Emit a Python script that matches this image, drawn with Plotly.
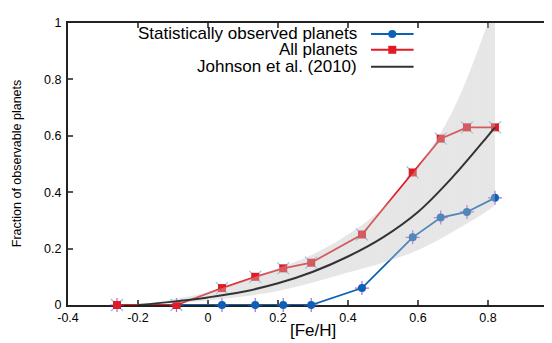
import plotly.graph_objects as go

# ---------------- data ----------------
feh_points = [-0.26, -0.09, 0.04, 0.135, 0.215, 0.295, 0.44, 0.585, 0.665, 0.74, 0.82]
frac_all = [0.0, 0.0, 0.06, 0.10, 0.13, 0.15, 0.25, 0.47, 0.59, 0.63, 0.63]
frac_observed = [0.0, 0.0, 0.0, 0.0, 0.0, 0.0, 0.06, 0.24, 0.31, 0.33, 0.38]

feh_curve = [-0.2, -0.1, 0.0, 0.1, 0.2, 0.3, 0.4, 0.5, 0.6, 0.7, 0.8, 0.82]
frac_johnson = [0.0, 0.012, 0.027, 0.047, 0.077, 0.118, 0.172, 0.24, 0.33, 0.455, 0.6, 0.63]
band_upper = [0.0, 0.02, 0.045, 0.085, 0.13, 0.18, 0.25, 0.345, 0.49, 0.69, 1.0, 1.07]
band_lower = [0.0, 0.006, 0.016, 0.03, 0.05, 0.08, 0.115, 0.15, 0.195, 0.26, 0.335, 0.355]

x_tickvals = [-0.4, -0.2, 0.0, 0.2, 0.4, 0.6, 0.8]
x_ticktext = ["-0.4", "-0.2", "0", "0.2", "0.4", "0.6", "0.8"]
y_tickvals = [0.0, 0.2, 0.4, 0.6, 0.8, 1.0]
y_ticktext = ["0", "0.2", "0.4", "0.6", "0.8", "1"]

legend_names = ["Statistically observed planets", "All planets", "Johnson et al. (2010)"]

# ---------------- style ----------------
FONT = "Liberation Sans, Arial, Helvetica, sans-serif"
BLUE = "#0b62b4"
RED = "#e01b24"
BLACK = "#333333"
AXIS = "#222222"

fig = go.Figure()

# error-cross decorations
fig.add_trace(go.Scatter(x=feh_points, y=frac_all, mode="markers",
                         marker=dict(symbol="x-thin", size=12,
                                     line=dict(color="rgba(110,190,235,0.85)", width=1.2)),
                         hoverinfo="skip", showlegend=False, cliponaxis=False))
fig.add_trace(go.Scatter(x=feh_points, y=frac_observed, mode="markers",
                         marker=dict(symbol="cross-thin", size=10,
                                     line=dict(color="rgba(170,70,220,0.85)", width=1.2)),
                         hoverinfo="skip", showlegend=False, cliponaxis=False))

fig.add_trace(go.Scatter(x=feh_points, y=frac_observed, mode="lines+markers",
                         line=dict(color=BLUE, width=1.8),
                         marker=dict(symbol="circle", size=8, color=BLUE),
                         name=legend_names[0], showlegend=False, cliponaxis=False))
fig.add_trace(go.Scatter(x=feh_points, y=frac_all, mode="lines+markers",
                         line=dict(color=RED, width=1.8),
                         marker=dict(symbol="square", size=8, color=RED),
                         name=legend_names[1], showlegend=False, cliponaxis=False))

# uncertainty band (semi-transparent, drawn over the data lines)
fig.add_trace(go.Scatter(x=feh_curve, y=band_upper, mode="lines",
                         line=dict(width=0, shape="spline", color="rgba(0,0,0,0)"),
                         hoverinfo="skip", showlegend=False))
fig.add_trace(go.Scatter(x=feh_curve, y=band_lower, mode="lines",
                         line=dict(width=0, shape="spline", color="rgba(0,0,0,0)"),
                         fill="tonexty", fillcolor="rgba(190,190,190,0.38)",
                         fillpattern=dict(shape="|", size=3, solidity=0.2,
                                          bgcolor="rgba(192,192,192,0.38)",
                                          fgcolor="rgba(180,180,180,0.15)"),
                         hoverinfo="skip", showlegend=False))

fig.add_trace(go.Scatter(x=feh_curve, y=frac_johnson, mode="lines",
                         line=dict(color=BLACK, width=2, shape="spline"),
                         name=legend_names[2], showlegend=False))

# ---------------- manual legend (text left of sample) ----------------
leg_y = [0.961, 0.905, 0.845]
leg_text_x = 0.601
leg_x0, leg_x1, leg_xm = 0.626, 0.714, 0.670
leg_colors = [BLUE, RED, BLACK]
shapes = []
annotations = []
for i, name in enumerate(legend_names):
    annotations.append(dict(xref="paper", yref="paper", x=leg_text_x, y=leg_y[i],
                            xanchor="right", yanchor="middle", showarrow=False,
                            text=name, font=dict(family=FONT, size=17, color="#000")))
    shapes.append(dict(type="line", xref="paper", yref="paper",
                       x0=leg_x0, x1=leg_x1, y0=leg_y[i], y1=leg_y[i],
                       line=dict(color=leg_colors[i], width=2)))
shapes.append(dict(type="circle", xref="paper", yref="paper", xsizemode="pixel", ysizemode="pixel",
                   xanchor=leg_xm, yanchor=leg_y[0], x0=-4, x1=4, y0=-4, y1=4,
                   fillcolor=BLUE, line=dict(width=0)))
shapes.append(dict(type="rect", xref="paper", yref="paper", xsizemode="pixel", ysizemode="pixel",
                   xanchor=leg_xm, yanchor=leg_y[1], x0=-4, x1=4, y0=-4, y1=4,
                   fillcolor=RED, line=dict(width=0)))

# axis titles
annotations.append(dict(xref="x", yref="paper", x=0.3, y=-0.092, xanchor="center", yanchor="middle",
                        showarrow=False, text="[Fe/H]", font=dict(family=FONT, size=17, color="#000")))
annotations.append(dict(xref="paper", yref="paper", x=-0.105, y=0.5, xanchor="center", yanchor="middle",
                        textangle=-90, showarrow=False, text="Fraction of observable planets",
                        font=dict(family=FONT, size=12.5, color="#000")))

# page body adds an 8px offset; margins compensate so the plot lands where the reference has it
fig.update_layout(
    width=552, height=343, autosize=False,
    margin=dict(l=60, r=8, t=8, b=46),
    paper_bgcolor="white", plot_bgcolor="white",
    showlegend=False,
    shapes=shapes, annotations=annotations,
    font=dict(family=FONT, size=12.5, color="#000"),
)
fig.update_xaxes(range=[-0.4, 0.983], tickvals=x_tickvals, ticktext=x_ticktext,
                 showgrid=False, zeroline=False, showline=True, linecolor=AXIS, linewidth=2,
                 mirror="ticks", ticks="inside", ticklen=5, tickwidth=1.5, tickcolor="#555",
                 layer="below traces",
                 tickfont=dict(family=FONT, size=12.5, color="#000"))
fig.update_yaxes(range=[0, 1], tickvals=y_tickvals, ticktext=y_ticktext,
                 showgrid=False, zeroline=False, showline=True, linecolor=AXIS, linewidth=2,
                 ticks="inside", ticklen=5, tickwidth=1.5, tickcolor="#555",
                 ticklabelstandoff=2, layer="below traces",
                 tickfont=dict(family=FONT, size=12.5, color="#000"))

fig.write_html("out.html")
